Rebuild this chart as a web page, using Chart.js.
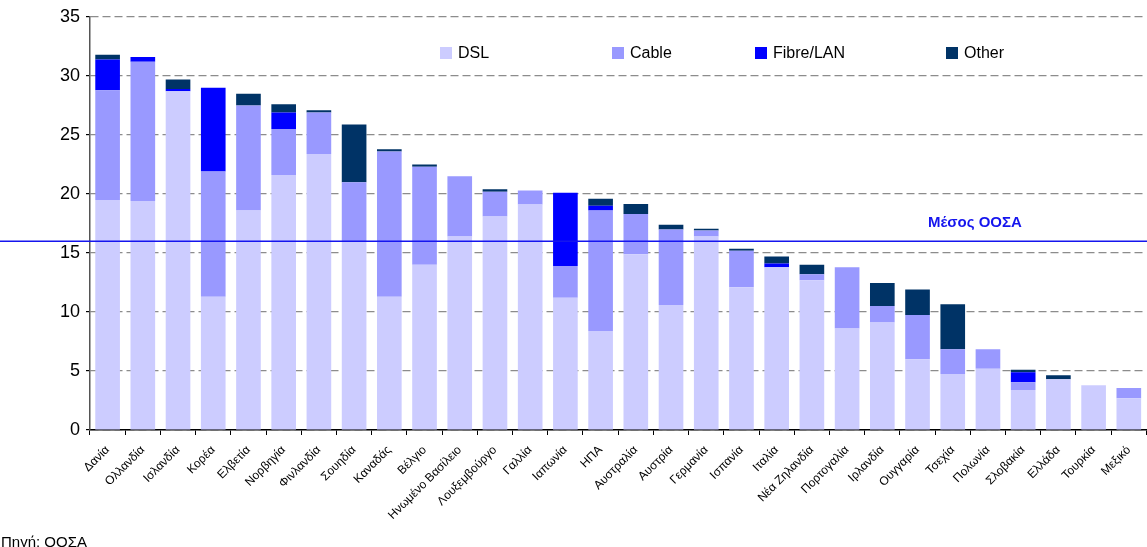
<!DOCTYPE html>
<html>
<head>
<meta charset="utf-8">
<script src="https://cdn.jsdelivr.net/npm/chart.js@4/dist/chart.umd.min.js"></script>
<style>
  html, body { margin: 0; padding: 0; background: #fff; }
  #wrap { width: 1147px; height: 547px; position: relative; }
</style>
</head>
<body>
<div id="wrap"><canvas id="bbChart"></canvas></div>
<script>
const categories = ['Δανία', 'Ολλανδία', 'Ισλανδία', 'Κορέα', 'Ελβετία', 'Νορβηγία', 'Φινλανδία', 'Σουηδία',
    'Καναδάς', 'Βέλγιο', 'Ηνωμένο Βασίλειο', 'Λουξεμβούργο', 'Γαλλία', 'Ιαπωνία', 'ΗΠΑ', 'Αυστραλία',
    'Αυστρία', 'Γερμανία', 'Ισπανία', 'Ιταλία', 'Νέα Ζηλανδία', 'Πορτογαλία', 'Ιρλανδία', 'Ουγγαρία',
    'Τσεχία', 'Πολωνία', 'Σλοβακία', 'Ελλάδα', 'Τουρκία', 'Μεξικό'];

const dsl   = [19.5, 19.4, 28.7, 11.3, 18.6, 21.6, 23.4, 16.0, 11.3, 14.0, 16.4, 18.1, 19.1, 11.2, 8.4,
               14.9, 10.6, 16.4, 12.1, 13.8, 12.7, 8.6, 9.1, 6.0, 4.75, 5.2, 3.4, 4.3, 3.8, 2.7];
const cable = [9.3, 11.8, 0, 10.6, 8.9, 3.9, 3.5, 5.0, 12.3, 8.3, 5.1, 2.1, 1.2, 2.7, 10.2,
               3.4, 6.4, 0.5, 3.1, 0, 0.5, 5.2, 1.4, 3.75, 2.1, 1.65, 0.65, 0, 0, 0.85];
const fibre = [2.6, 0.4, 0.2, 7.1, 0, 1.4, 0, 0, 0, 0, 0, 0, 0, 6.2, 0.4,
               0, 0, 0, 0, 0.3, 0, 0, 0, 0, 0, 0, 0.85, 0, 0, 0];
const other = [0.4, 0, 0.8, 0, 1.0, 0.7, 0.2, 4.9, 0.2, 0.2, 0, 0.2, 0, 0, 0.6,
               0.85, 0.4, 0.15, 0.15, 0.6, 0.8, 0, 1.95, 2.15, 3.8, 0, 0.2, 0.35, 0, 0];

const oecdAverage = 16.0;
const averageLabel = 'Μέσος ΟΟΣΑ';
const sourceNote = 'Πηγή: ΟΟΣΑ';
const yTicks = [0, 5, 10, 15, 20, 25, 30, 35];

const FONT = '"Liberation Sans", Arial, sans-serif';

// legend drawn inside the plot, like the original
const legendPlugin = {
    id: 'innerLegend',
    afterDraw(chart) {
        const c = chart.ctx;
        const xs = [440, 612, 755, 946];
        c.save();
        c.font = '16px ' + FONT;
        c.textBaseline = 'middle';
        chart.data.datasets.forEach((ds, i) => {
            c.fillStyle = ds.backgroundColor;
            c.fillRect(xs[i], 47, 12, 12);
            c.fillStyle = '#000';
            c.fillText(ds.label, xs[i] + 18, 54);
        });
        c.restore();
    }
};

// OECD average line across the whole picture, plus source note
const averagePlugin = {
    id: 'averageLine',
    afterDatasetsDraw(chart) {
        const c = chart.ctx;
        const y = chart.scales.y.getPixelForValue(oecdAverage);
        c.save();
        c.strokeStyle = '#1515ee';
        c.lineWidth = 1.6;
        c.beginPath();
        c.moveTo(0, y);
        c.lineTo(chart.width, y);
        c.stroke();
        c.fillStyle = '#1515ee';
        c.font = 'bold 15px ' + FONT;
        c.textBaseline = 'middle';
        c.fillText(averageLabel, 928, y - 18);
        c.restore();
    },
    afterDraw(chart) {
        const c = chart.ctx;
        c.save();
        c.fillStyle = '#000';
        c.font = '15px ' + FONT;
        c.textBaseline = 'alphabetic';
        c.fillText(sourceNote, 1, 547);
        c.restore();
    }
};

new Chart(document.getElementById('bbChart'), {
    type: 'bar',
    data: {
        labels: categories,
        datasets: [
            { label: 'DSL', data: dsl, backgroundColor: '#ccccff' },
            { label: 'Cable', data: cable, backgroundColor: '#9999ff' },
            { label: 'Fibre/LAN', data: fibre, backgroundColor: '#0000ff' },
            { label: 'Other', data: other, backgroundColor: '#003366' }
        ]
    },
    options: {
        responsive: true,
        maintainAspectRatio: false,
        animation: false,
        layout: { padding: { top: 17, left: 0, right: 0, bottom: 0 } },
        datasets: { bar: { barPercentage: 0.7, categoryPercentage: 1.0, borderWidth: 0 } },
        plugins: {
            legend: { display: false },
            tooltip: { enabled: false }
        },
        scales: {
            x: {
                stacked: true,
                afterFit: s => { s.height = 117; },
                grid: { offset: true, drawOnChartArea: false, drawTicks: true, tickLength: 5, color: '#000' },
                border: { color: '#000', width: 1.5 },
                ticks: {
                    autoSkip: false,
                    minRotation: 45,
                    maxRotation: 45,
                    padding: 8,
                    color: '#000',
                    font: { family: FONT, size: 12 }
                }
            },
            y: {
                stacked: true,
                min: 0,
                max: 35,
                afterFit: s => { s.width = 90; },
                afterBuildTicks: s => { s.ticks = yTicks.map(v => ({ value: v })); },
                grid: { color: '#8c8c8c', lineWidth: 1.2, tickColor: '#000', tickLength: 4, tickBorderDash: [] },
                border: { color: '#555', width: 1.5, dash: [8, 4] },
                ticks: {
                    padding: 6,
                    color: '#000',
                    font: { family: FONT, size: 18 }
                }
            }
        }
    },
    plugins: [legendPlugin, averagePlugin]
});
</script>
</body>
</html>
